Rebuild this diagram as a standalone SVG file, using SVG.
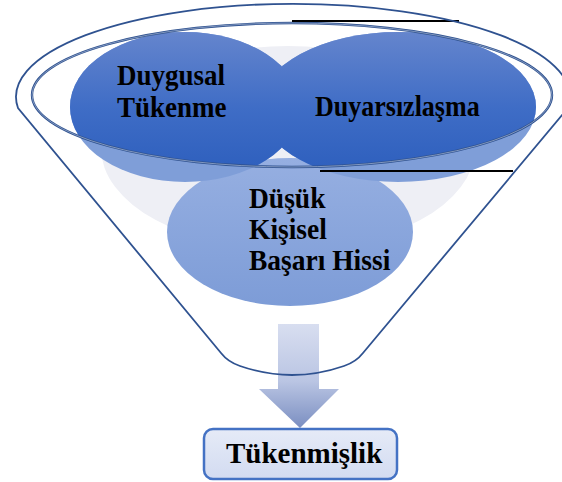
<svg xmlns="http://www.w3.org/2000/svg" width="562" height="482" viewBox="0 0 562 482">
<style>
.lbl{font-family:"Liberation Serif","Times New Roman",serif;font-weight:bold;fill:#000}
.outline{fill:none;stroke:#2F5290;stroke-width:1.8}
.blk{stroke:#000;stroke-width:2}
</style>
<defs>
<linearGradient id="gDark" x1="0" y1="32" x2="0" y2="182" gradientUnits="userSpaceOnUse">
<stop offset="0" stop-color="#6585CD"/>
<stop offset="0.5" stop-color="#3F6DC6"/>
<stop offset="1" stop-color="#2B5DBC"/>
</linearGradient>
<linearGradient id="gLow" x1="0" y1="158" x2="0" y2="306" gradientUnits="userSpaceOnUse">
<stop offset="0" stop-color="#96AFE1"/>
<stop offset="1" stop-color="#7D9CD7"/>
</linearGradient>
<linearGradient id="gArrow" x1="0" y1="324" x2="0" y2="428" gradientUnits="userSpaceOnUse">
<stop offset="0" stop-color="#D8DEF0"/>
<stop offset="0.55" stop-color="#BAC5E3"/>
<stop offset="1" stop-color="#7A8EC1"/>
</linearGradient>
<linearGradient id="gBox" x1="0" y1="428" x2="0" y2="480" gradientUnits="userSpaceOnUse">
<stop offset="0" stop-color="#E6EBF7"/>
<stop offset="1" stop-color="#D2DBF1"/>
</linearGradient>
<clipPath id="inner"><ellipse cx="292" cy="95" rx="260" ry="72"/></clipPath>
</defs>

<g id="background">
<ellipse cx="288" cy="148" rx="187" ry="102" fill="#EEEFF5"/>
</g>

<g id="node-dusuk">
<ellipse cx="290" cy="232" rx="123" ry="74" fill="url(#gLow)"/>
<text class="lbl" font-size="27.5" transform="translate(249,208) scale(1,1.06)">Düşük</text>
<text class="lbl" font-size="27.5" transform="translate(249,239) scale(1,1.06)">Kişisel</text>
<text class="lbl" font-size="27.5" transform="translate(249,270) scale(1,1.06)">Başarı Hissi</text>
</g>

<g id="blue-band">
<ellipse cx="185" cy="107" rx="115" ry="75" fill="#7F9ED8"/>
<ellipse cx="398" cy="107" rx="138" ry="75" fill="#7F9ED8"/>
</g>

<g id="node-duygusal" clip-path="url(#inner)">
<ellipse cx="185" cy="107" rx="115" ry="75" fill="url(#gDark)"/>
</g>
<g id="node-duyarsizlasma" clip-path="url(#inner)">
<ellipse cx="398" cy="107" rx="138" ry="75" fill="url(#gDark)"/>
</g>
<g id="labels-top">
<text class="lbl" font-size="27" transform="translate(117,85) scale(1,1.06)">Duygusal</text>
<text class="lbl" font-size="27" transform="translate(117,117) scale(1,1.06)">Tükenme</text>
<text class="lbl" font-size="26" transform="translate(315,116) scale(1,1.1)">Duyarsızlaşma</text>
</g>

<g id="arrow">
<path d="M278,324 H319 V389 H339 L300,428 L259,389 H278 Z" fill="url(#gArrow)"/>
</g>

<g id="funnel">
<ellipse cx="292" cy="95" rx="260" ry="72" fill="none" stroke="#2F5290" stroke-width="2.4"/>
<ellipse cx="292" cy="95" rx="260" ry="72" fill="none" stroke="#B8C6DE" stroke-width="0.6"/>
<line class="blk" x1="292" y1="21" x2="459" y2="21"/>
<line class="blk" x1="320" y1="171" x2="513" y2="171"/>
<path class="outline" d="M18,108 A277 93 0 1 1 568,108 L363,353 Q356,362 344,366 Q292,384 240,366 Q228,362 221,353 Z"/>
</g>

<g id="node-tukenmislik">
<rect x="204" y="429" width="193" height="50" rx="9" fill="url(#gBox)" stroke="#4472C4" stroke-width="2.5"/>
<text class="lbl" font-size="29" transform="translate(226,463) scale(1,1.04)">Tükenmişlik</text>
</g>
</svg>
